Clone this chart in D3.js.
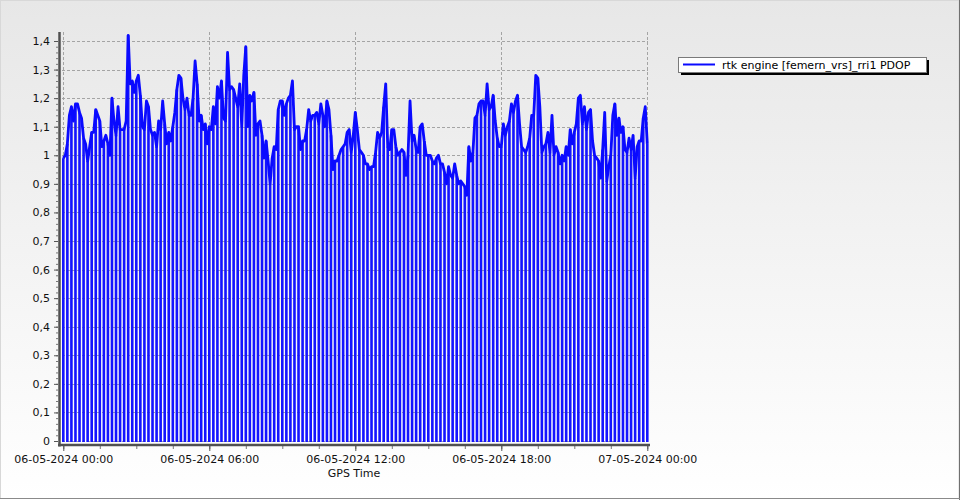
<!DOCTYPE html>
<html><head><meta charset="utf-8">
<script src="https://cdn.jsdelivr.net/npm/d3@7/dist/d3.min.js"></script>
<style>body{margin:0;background:#fff;} svg{display:block;}</style>
</head><body><svg id="c" width="960" height="500"></svg>
<script>
// ---------- data ----------
const seriesName = "rtk engine [femern_vrs]_rri1 PDOP";
const xAxisTitle = "GPS Time";
const startTime = "2024-05-06T00:00:00Z";
const endTime = "2024-05-07T00:00:00Z";
const sampleMinutes = 5;
const pdop = [
0.99,1.00,1.04,1.14,1.17,1.12,1.18,1.18,1.15,1.13,
1.06,1.04,0.98,1.03,1.08,1.08,1.16,1.14,1.12,1.03,
1.05,1.07,1.04,1.00,1.20,1.12,1.07,1.17,1.09,1.09,
1.09,1.12,1.42,1.25,1.26,1.22,1.26,1.28,1.21,1.10,
1.09,1.19,1.17,1.09,1.07,1.08,1.03,1.12,1.09,1.19,
1.11,1.04,1.08,1.05,1.10,1.15,1.23,1.28,1.27,1.20,
1.16,1.20,1.14,1.14,1.20,1.33,1.25,1.12,1.14,1.09,
1.11,1.04,1.10,1.09,1.17,1.11,1.24,1.20,1.26,1.13,
1.12,1.36,1.23,1.24,1.23,1.20,1.17,1.25,1.10,1.28,
1.38,1.10,1.21,1.19,1.22,1.07,1.11,1.12,1.07,0.99,
1.05,0.98,0.90,0.99,1.03,1.02,1.16,1.19,1.19,1.14,
1.18,1.20,1.21,1.26,1.09,1.10,1.10,1.02,1.05,1.05,
1.09,1.16,1.12,1.14,1.14,1.15,1.11,1.18,1.14,1.10,
1.19,1.16,1.07,0.95,0.98,0.98,1.00,1.02,1.03,1.04,
1.08,1.09,1.01,1.07,1.15,1.09,1.02,1.01,1.00,0.97,
0.97,0.95,0.96,0.96,1.01,1.08,1.06,1.08,1.17,1.25,
1.03,1.02,1.09,1.09,1.03,1.00,1.01,1.02,1.01,0.93,
1.00,1.19,1.05,1.07,1.02,1.01,1.10,1.11,1.05,1.00,
1.00,1.00,0.98,0.97,0.99,1.00,0.97,0.97,0.94,0.90,
0.96,0.93,0.92,0.97,0.93,0.90,0.91,0.90,0.89,0.86,
1.03,0.98,1.01,1.13,1.14,1.18,1.19,1.19,1.14,1.25,
1.16,1.17,1.21,1.12,1.06,1.03,1.03,1.11,1.07,1.10,
1.12,1.18,1.15,1.19,1.21,1.11,1.03,1.02,1.01,1.03,
1.06,1.14,1.14,1.28,1.27,1.17,1.01,1.03,1.04,1.08,
1.01,1.14,1.00,1.03,1.01,0.97,1.00,0.98,1.03,1.00,
1.09,1.04,1.08,1.11,1.20,1.21,1.11,1.17,1.09,1.15,
1.16,1.05,1.00,0.99,0.98,0.92,1.02,1.15,0.91,0.96,
1.00,1.14,1.18,1.07,1.13,1.08,1.10,1.02,1.01,1.06,
1.02,1.07,0.92,1.03,1.05,1.05,1.13,1.17,1.04
];
const yTicks = [0,0.1,0.2,0.3,0.4,0.5,0.6,0.7,0.8,0.9,1.0,1.1,1.2,1.3,1.4];
const yTickLabels = ["0","0,1","0,2","0,3","0,4","0,5","0,6","0,7","0,8","0,9","1","1,1","1,2","1,3","1,4"];
const xTickHours = [0,6,12,18,24];
const xTickLabels = ["06-05-2024 00:00","06-05-2024 06:00","06-05-2024 12:00","06-05-2024 18:00","07-05-2024 00:00"];

// ---------- chart ----------
const svg = d3.select("#c");
const FONT = "'DejaVu Sans', Verdana, sans-serif";
const t0 = new Date(startTime), t1 = new Date(endTime);
const times = pdop.map((_, i) => new Date(t0.getTime() + i * sampleMinutes * 60000));
const data = pdop.map((v, i) => ({t: times[i], v}));

const x = d3.scaleUtc().domain([t0, t1]).range([63.3, 647.3]);
const y = d3.scaleLinear().domain([0, 1.4]).range([441, 41]);

// background
const defs = svg.append("defs");
const grad = defs.append("linearGradient").attr("id","bg").attr("x1",0).attr("y1",0).attr("x2",0).attr("y2",1);
grad.append("stop").attr("offset","0%").attr("stop-color","#e7e7e7");
grad.append("stop").attr("offset","100%").attr("stop-color","#ffffff");
svg.append("rect").attr("width",960).attr("height",500).attr("fill","url(#bg)");
svg.append("rect").attr("x",0.5).attr("y",0.5).attr("width",958.5).attr("height",498).attr("fill","none").attr("stroke","#d8d8d8");
svg.append("line").attr("x1",959.5).attr("x2",959.5).attr("y1",0).attr("y2",500).attr("stroke","#707070");
svg.append("line").attr("x1",0).attr("x2",960).attr("y1",498.5).attr("y2",498.5).attr("stroke","#8a8a8a");

// grid
const grid = svg.append("g").attr("stroke","#a4a4a4").attr("stroke-dasharray","3,2").attr("stroke-width",1);
grid.selectAll("line.h").data(yTicks).join("line").attr("class","h")
  .attr("x1",62).attr("x2",648).attr("y1",d=>Math.round(y(d))+0.5).attr("y2",d=>Math.round(y(d))+0.5);
grid.selectAll("line.v").data(xTickHours).join("line").attr("class","v")
  .attr("x1",d=>Math.round(x(new Date(t0.getTime()+d*3600000)))+0.5)
  .attr("x2",d=>Math.round(x(new Date(t0.getTime()+d*3600000)))+0.5)
  .attr("y1",32).attr("y2",441);

// bars (every 10 minutes)
const barData = data.filter((d, i) => i % 2 === 0);
svg.append("g").selectAll("rect").data(barData).join("rect")
  .attr("x", d => x(d.t) - 1.3).attr("width", 2.6)
  .attr("y", d => y(d.v)).attr("height", d => y(0) + 1 - y(d.v))
  .attr("fill", "#1414ff");

// line
svg.append("path").datum(data)
  .attr("d", d3.line().x(d => x(d.t)).y(d => y(d.v)))
  .attr("fill","none").attr("stroke","#0a0aff").attr("stroke-width",2.8).attr("stroke-linejoin","round");

// y axis
const yMinor = d3.range(0, 1.4001, 0.02);
const gyMinor = svg.append("g").attr("transform","translate(58,0)")
  .call(d3.axisLeft(y).tickValues(yMinor).tickSize(2).tickFormat(""));
gyMinor.select(".domain").remove();
gyMinor.selectAll("line").attr("stroke","#777");
const gy = svg.append("g").attr("transform","translate(58,0)")
  .call(d3.axisLeft(y).tickValues(yTicks).tickSize(4).tickPadding(4).tickFormat((d,i)=>yTickLabels[i]));
gy.select(".domain").remove();
gy.selectAll("line").attr("stroke","#555");
gy.selectAll("text").attr("font-family",FONT).attr("font-size",11).attr("fill","#111");
svg.append("line").attr("x1",59.5).attr("x2",59.5).attr("y1",32).attr("y2",446.5).attr("stroke","#505050").attr("stroke-width",2.5);

// x axis
const xMinor = d3.range(0, 24.01, 1.5).map(h => new Date(t0.getTime()+h*3600000));
const gxMinor = svg.append("g").attr("transform","translate(0,446)")
  .call(d3.axisBottom(x).tickValues(xMinor).tickSize(3).tickFormat(""));
gxMinor.select(".domain").remove();
gxMinor.selectAll("line").attr("stroke","#777");
const xMajor = xTickHours.map(h => new Date(t0.getTime()+h*3600000));
const gx = svg.append("g").attr("transform","translate(0,446)")
  .call(d3.axisBottom(x).tickValues(xMajor).tickSize(5).tickPadding(4).tickFormat((d,i)=>xTickLabels[i]));
gx.select(".domain").remove();
gx.selectAll("line").attr("stroke","#555");
gx.selectAll("text").attr("font-family",FONT).attr("font-size",11).attr("fill","#111");
svg.append("line").attr("x1",58).attr("x2",650).attr("y1",445).attr("y2",445).attr("stroke","#505050").attr("stroke-width",2.5);

svg.append("text").attr("x",354).attr("y",477).attr("text-anchor","middle")
  .attr("font-family",FONT).attr("font-size",11).attr("fill","#111").text(xAxisTitle);

// legend
const lg = svg.append("g");
lg.append("rect").attr("x",681).attr("y",60).attr("width",248).attr("height",15).attr("fill","#000");
lg.append("rect").attr("x",678.5).attr("y",57.5).attr("width",248).attr("height",15).attr("fill","#fff").attr("stroke","#7a7a7a");
lg.append("line").attr("x1",683).attr("x2",715).attr("y1",64.5).attr("y2",64.5).attr("stroke","#0a0aff").attr("stroke-width",2);
lg.append("text").attr("x",722).attr("y",69).attr("font-family",FONT).attr("font-size",11).attr("fill","#000").text(seriesName);
</script></body></html>
